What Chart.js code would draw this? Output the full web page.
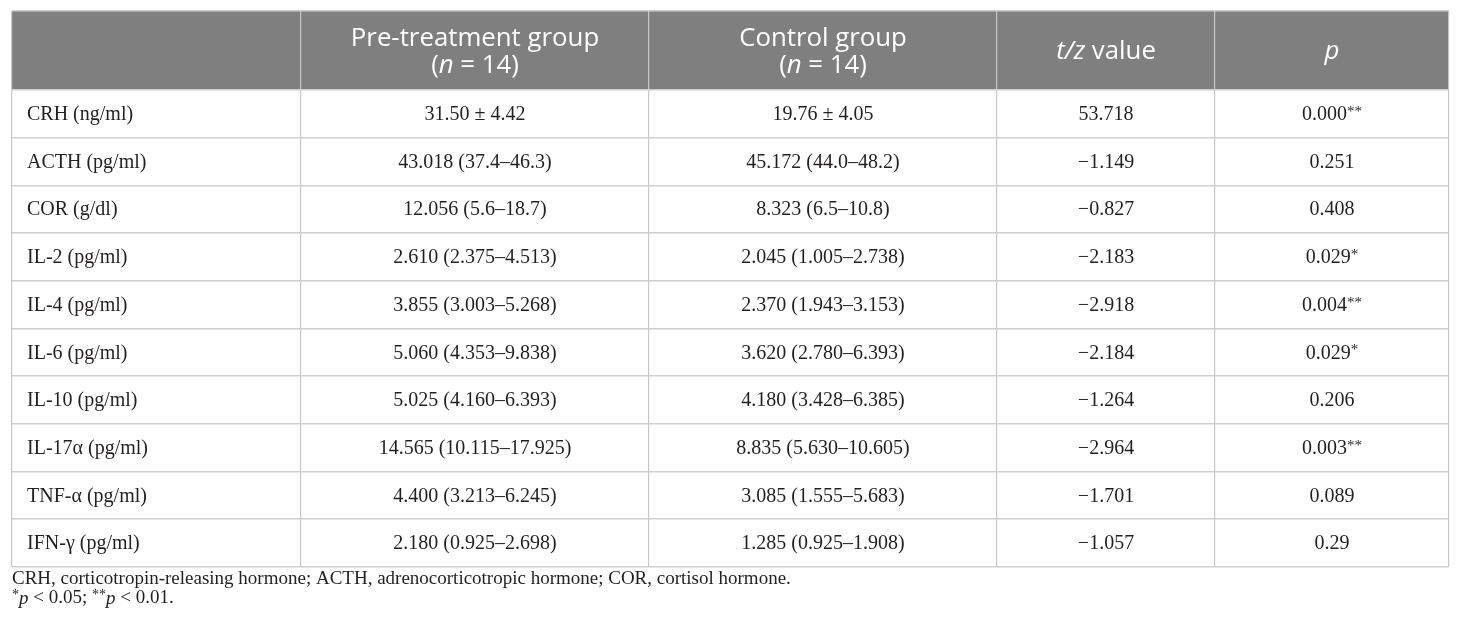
<!DOCTYPE html>
<html>
<head>
<meta charset="utf-8">
<script src="https://cdn.jsdelivr.net/npm/chart.js@4.4.1/dist/chart.umd.min.js"></script>
<style>
  html, body { margin: 0; padding: 0; background: #fff; }
  canvas { display: block; }
</style>
</head>
<body>
<canvas id="table" width="1460" height="632"></canvas>
<script>
// table content
const rowLabels = ['CRH (ng/ml)', 'ACTH (pg/ml)', 'COR (g/dl)', 'IL-2 (pg/ml)', 'IL-4 (pg/ml)',
  'IL-6 (pg/ml)', 'IL-10 (pg/ml)', 'IL-17α (pg/ml)', 'TNF-α (pg/ml)', 'IFN-γ (pg/ml)'];
const pretreatment = ['31.50 ± 4.42', '43.018 (37.4–46.3)', '12.056 (5.6–18.7)', '2.610 (2.375–4.513)',
  '3.855 (3.003–5.268)', '5.060 (4.353–9.838)', '5.025 (4.160–6.393)', '14.565 (10.115–17.925)',
  '4.400 (3.213–6.245)', '2.180 (0.925–2.698)'];
const control = ['19.76 ± 4.05', '45.172 (44.0–48.2)', '8.323 (6.5–10.8)', '2.045 (1.005–2.738)',
  '2.370 (1.943–3.153)', '3.620 (2.780–6.393)', '4.180 (3.428–6.385)', '8.835 (5.630–10.605)',
  '3.085 (1.555–5.683)', '1.285 (0.925–1.908)'];
const tzValues = ['53.718', '−1.149', '−0.827', '−2.183', '−2.918', '−2.184', '−1.264', '−2.964', '−1.701', '−1.057'];
const pValues = ['0.000**', '0.251', '0.408', '0.029*', '0.004**', '0.029*', '0.206', '0.003**', '0.089', '0.29'];

// header cells: each is a list of lines, each line a list of [text, style]
// style: 'r' roman, 'i' italic, 's' raised star
const headers = [
  [],
  [[['Pre-treatment group', 'r']], [['(', 'r'], ['n', 'i'], [' = 14)', 'r']]],
  [[['Control group', 'r']], [['(', 'r'], ['n', 'i'], [' = 14)', 'r']]],
  [[['t/z', 'i'], [' value', 'r']]],
  [[['p', 'i']]]
];
const footnotes = [
  [['CRH, corticotropin-releasing hormone; ACTH, adrenocorticotropic hormone; COR, cortisol hormone.', 'r']],
  [['*', 's'], ['p', 'i'], [' < 0.05; ', 'r'], ['**', 's'], ['p', 'i'], [' < 0.01.', 'r']]
];

// layout (scale units)
const colEdges = [0, 289, 637, 985, 1203, 1437];
const headerSpan = 1.656;   // header height, in row units
const nRows = rowLabels.length;

const columns = [rowLabels, pretreatment, control, tzValues, pValues];

const headFont = (s) => (s === 'i' ? 'italic ' : '') + '25.8px "Open Sans"';
const bodyFont = (s) => s === 's' ? '15px "Liberation Serif"' : '20px "Liberation Serif"';
const noteFont = (s) => s === 's' ? '14px "Liberation Serif"' : (s === 'i' ? 'italic ' : '') + '19px "Liberation Serif"';

function drawRuns(ctx, runs, x, y, fontFn, align) {
  let total = 0;
  runs.forEach(([t, s]) => { ctx.font = fontFn(s); total += ctx.measureText(t).width; });
  let cx = align === 'left' ? x : x - total / 2;
  ctx.textAlign = 'left';
  runs.forEach(([t, s]) => {
    ctx.font = fontFn(s);
    ctx.fillText(t, cx, s === 's' ? y - 3 : y);
    cx += ctx.measureText(t).width;
  });
}

// split "0.029*" into number and raised stars
function cellRuns(v) {
  const m = v.match(/^(.*?)(\*+)$/);
  return m ? [[m[1], 'r'], [m[2], 's']] : [[v, 'r']];
}

const tablePlugin = {
  id: 'tableCells',
  beforeDraw(chart) {
    const { ctx, scales: { x, y } } = chart;
    ctx.save();
    ctx.fillStyle = '#7f7f7f';
    const top = y.getPixelForValue(-headerSpan), bot = y.getPixelForValue(0);
    ctx.fillRect(x.getPixelForValue(0), top, x.getPixelForValue(colEdges[colEdges.length - 1]) - x.getPixelForValue(0), bot - top);
    ctx.restore();
  },
  afterDatasetsDraw(chart) {
    const { ctx, scales: { x, y } } = chart;
    ctx.save();
    ctx.textBaseline = 'middle';

    // header
    ctx.fillStyle = '#ffffff';
    const hMid = (y.getPixelForValue(-headerSpan) + y.getPixelForValue(0)) / 2 + 1.5;
    headers.forEach((lines, c) => {
      const cx = (x.getPixelForValue(colEdges[c]) + x.getPixelForValue(colEdges[c + 1])) / 2;
      lines.forEach((runs, i) => {
        const ly = hMid + (i - (lines.length - 1) / 2) * 27;
        drawRuns(ctx, runs, cx, ly, headFont, 'center');
      });
    });

    // body
    ctx.fillStyle = '#231f20';
    columns.forEach((vals, c) => {
      const left = x.getPixelForValue(colEdges[c]);
      const cx = (left + x.getPixelForValue(colEdges[c + 1])) / 2;
      vals.forEach((v, r) => {
        const cy = y.getPixelForValue(r + 0.5) + 1;
        if (c === 0) {
          drawRuns(ctx, [[v, 'r']], left + 15, cy, bodyFont, 'left');
        } else {
          drawRuns(ctx, cellRuns(v), cx, cy, bodyFont, 'center');
        }
      });
    });

    // footnotes under the table
    const base = y.getPixelForValue(nRows);
    footnotes.forEach((runs, i) => {
      drawRuns(ctx, runs, x.getPixelForValue(0), base + 12 + i * 19.5, noteFont, 'left');
    });
    ctx.restore();
  }
};

const edgeTicks = (vals) => (scale) => { scale.ticks = vals.map(v => ({ value: v })); };
const rowEdges = [-headerSpan].concat(Array.from({ length: nRows + 1 }, (_, i) => i));

new Chart(document.getElementById('table'), {
  type: 'scatter',
  data: { datasets: [{ data: [], pointRadius: 0 }] },
  options: {
    responsive: false,
    animation: false,
    events: [],
    layout: { padding: { left: 12, right: 11, top: 11, bottom: 65 } },
    plugins: { legend: { display: false }, tooltip: { enabled: false } },
    scales: {
      x: {
        type: 'linear', min: 0, max: colEdges[colEdges.length - 1],
        afterBuildTicks: edgeTicks(colEdges),
        ticks: { display: false },
        border: { display: false },
        grid: { color: '#c8c8c8', lineWidth: 1.2, drawTicks: false }
      },
      y: {
        type: 'linear', min: -headerSpan, max: nRows, reverse: true,
        afterBuildTicks: edgeTicks(rowEdges),
        ticks: { display: false },
        border: { display: false },
        grid: { color: '#cfcfcf', lineWidth: 1.6, drawTicks: false }
      }
    }
  },
  plugins: [tablePlugin]
});
</script>
</body>
</html>
